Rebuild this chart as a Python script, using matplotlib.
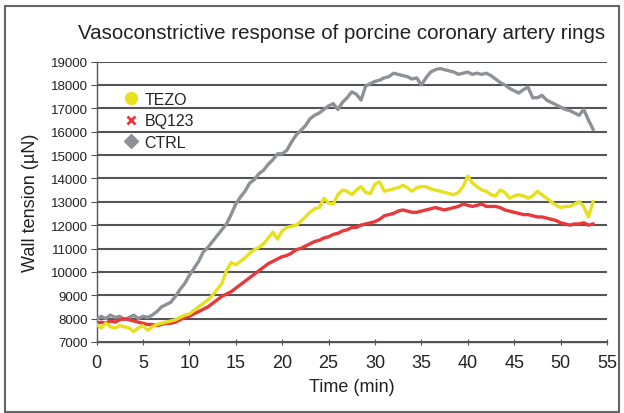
import matplotlib
matplotlib.use("Agg")
import matplotlib.pyplot as plt
from matplotlib.lines import Line2D
from matplotlib.patches import Rectangle

plt.rcParams['font.family'] = ['Liberation Sans', 'DejaVu Sans']

title = "Vasoconstrictive response of porcine coronary artery rings"
x_label = "Time (min)"
y_label = "Wall tension (\u00b5N)"
series_names = ["TEZO", "BQ123", "CTRL"]

time_min = [0, 0.5, 1, 1.5, 2, 2.5, 3, 3.5, 4, 4.5, 5, 5.5, 6, 6.5, 7, 7.5, 8, 8.5, 9, 9.5,
            10, 10.5, 11, 11.5, 12, 12.5, 13, 13.5, 14, 14.5, 15, 15.5, 16, 16.5, 17, 17.5,
            18, 18.5, 19, 19.5, 20, 20.5, 21, 21.5, 22, 22.5, 23, 23.5, 24, 24.5, 25, 25.5,
            26, 26.5, 27, 27.5, 28, 28.5, 29, 29.5, 30, 30.5, 31, 31.5, 32, 32.5, 33, 33.5,
            34, 34.5, 35, 35.5, 36, 36.5, 37, 37.5, 38, 38.5, 39, 39.5, 40, 40.5, 41, 41.5,
            42, 42.5, 43, 43.5, 44, 44.5, 45, 45.5, 46, 46.5, 47, 47.5, 48, 48.5, 49, 49.5,
            50, 50.5, 51, 51.5, 52, 52.5, 53, 53.5]

ctrl = [7950, 8100, 8000, 8150, 8050, 8100, 7950, 8050, 8150, 8000, 8100, 8050, 8150, 8300,
        8500, 8600, 8700, 8950, 9250, 9500, 9850, 10150, 10450, 10850, 11050, 11300, 11550,
        11800, 12050, 12450, 12900, 13200, 13450, 13800, 13950, 14200, 14350, 14600, 14800,
        15050, 15050, 15200, 15550, 15850, 16050, 16250, 16550, 16700, 16800, 16950, 17100,
        17200, 16950, 17250, 17450, 17700, 17600, 17350, 17950, 18050, 18150, 18200, 18300,
        18350, 18500, 18450, 18400, 18350, 18250, 18300, 18000, 18300, 18550, 18650, 18700,
        18650, 18600, 18550, 18450, 18500, 18550, 18450, 18500, 18450, 18500, 18400, 18250,
        18100, 18000, 17850, 17750, 17650, 17800, 17900, 17450, 17450, 17550, 17350, 17250,
        17150, 17050, 16950, 16900, 16800, 16700, 16950, 16500, 16100]

tezo = [7750, 7600, 7800, 7650, 7600, 7700, 7650, 7600, 7450, 7600, 7700, 7500, 7650, 7750,
        7800, 7850, 7900, 7950, 8050, 8150, 8200, 8350, 8500, 8650, 8800, 9000, 9250, 9500,
        10050, 10400, 10300, 10450, 10600, 10800, 10950, 11050, 11200, 11450, 11700, 11400,
        11750, 11900, 11950, 12000, 12150, 12350, 12550, 12700, 12750, 13150, 12950, 12900,
        13300, 13500, 13450, 13300, 13500, 13650, 13400, 13350, 13750, 13850, 13450, 13500,
        13550, 13600, 13700, 13600, 13450, 13600, 13650, 13650, 13550, 13500, 13450, 13400,
        13350, 13300, 13400, 13650, 14100, 13800, 13650, 13500, 13450, 13300, 13250, 13500,
        13400, 13150, 13250, 13300, 13250, 13150, 13250, 13450, 13300, 13150, 13000, 12850,
        12750, 12800, 12800, 12900, 13000, 12800, 12350, 13000]

bq123 = [7800, 7850, 7800, 7900, 7850, 7950, 8000, 7950, 7900, 7850, 7800, 7750, 7750, 7700,
         7750, 7800, 7800, 7850, 7950, 8050, 8100, 8200, 8300, 8400, 8500, 8650, 8800, 8950,
         9050, 9150, 9300, 9450, 9600, 9750, 9900, 10050, 10200, 10350, 10450, 10550, 10650,
         10700, 10800, 10950, 11000, 11100, 11200, 11300, 11350, 11450, 11500, 11600, 11650,
         11750, 11800, 11900, 11900, 12000, 12050, 12100, 12150, 12250, 12400, 12450, 12500,
         12600, 12650, 12600, 12550, 12550, 12600, 12650, 12700, 12750, 12700, 12650, 12700,
         12750, 12800, 12900, 12850, 12800, 12850, 12900, 12800, 12800, 12800, 12750, 12650,
         12600, 12550, 12500, 12450, 12450, 12400, 12350, 12350, 12300, 12250, 12200, 12100,
         12050, 12000, 12050, 12050, 12100, 12000, 12050]

x_ticks = [0, 5, 10, 15, 20, 25, 30, 35, 40, 45, 50, 55]
y_ticks = [7000, 8000, 9000, 10000, 11000, 12000, 13000, 14000, 15000, 16000, 17000, 18000, 19000]

c_tezo = '#e6e01e'
c_bq = '#e8383a'
c_ctrl = '#8e9196'

fig = plt.figure(figsize=(6.24, 4.14), dpi=100)
ax = fig.add_axes([0.1547, 0.1715, 0.818, 0.6775])

ax.plot(time_min, ctrl, color=c_ctrl, lw=2.4, zorder=3)
ax.plot(time_min, bq123, color=c_bq, lw=2.4, zorder=4)
ax.plot(time_min, tezo, color=c_tezo, lw=2.4, zorder=5)

ax.set_xlim(0, 55)
ax.set_ylim(7000, 19000)
ax.set_xticks(x_ticks)
ax.set_yticks(y_ticks)
ax.tick_params(axis='x', labelsize=13, direction='inout', length=5, color='#555555', pad=6)
ax.tick_params(axis='y', labelsize=9.5, direction='out', length=4, color='#555555', pad=2)
for lab in ax.get_xticklabels() + ax.get_yticklabels():
    lab.set_color('#222222')

ax.grid(axis='y', color='#555555', lw=1.5, zorder=1)
ax.set_axisbelow(True)
for s in ['top', 'right']:
    ax.spines[s].set_visible(False)
for s in ['left', 'bottom']:
    ax.spines[s].set_color('#555555')
    ax.spines[s].set_linewidth(1.0)

ax.set_xlabel(x_label, fontsize=13, color='#222222', labelpad=5)
ax.set_ylabel(y_label, fontsize=13, color='#222222', labelpad=9)
fig.text(0.548, 0.918, title, fontsize=14.8, color='#222222', ha='center', va='center')

handles = [
    Line2D([], [], ls='none', marker='o', ms=8.5, color=c_tezo),
    Line2D([], [], ls='none', marker='x', ms=6, mew=2, color=c_bq),
    Line2D([], [], ls='none', marker='D', ms=7, color=c_ctrl),
]
leg = ax.legend(handles, series_names, loc='upper left', bbox_to_anchor=(0.055, 0.893),
                frameon=False, fontsize=11.5, handlelength=0.8, handletextpad=0.45,
                labelspacing=0.42, borderpad=0, borderaxespad=0)
for t in leg.get_texts():
    t.set_color('#222222')
    t.set_fontweight('medium')

fig.patches.append(Rectangle((5 / 624, 1 / 414), 614 / 624, 406 / 414, transform=fig.transFigure,
                             fill=False, edgecolor='#666666', lw=1.5))

fig.savefig('out.png', dpi=100)
